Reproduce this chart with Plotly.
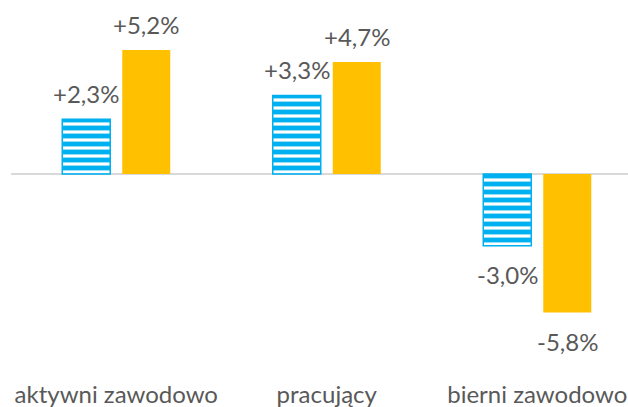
import plotly.graph_objects as go

categories = ["aktywni zawodowo", "pracujący", "bierni zawodowo"]
series_a = [2.3, 3.3, -3.0]
series_b = [5.2, 4.7, -5.8]
labels_a = ["+2,3%", "+3,3%", "-3,0%"]
labels_b = ["+5,2%", "+4,7%", "-5,8%"]

BLUE = "#00B0F0"
YELLOW = "#FFC000"
TEXT = "#595959"
FONT = "Lato"

fig = go.Figure()
fig.add_trace(go.Bar(
    x=categories, y=series_a, name="a",
    marker=dict(color=BLUE, line=dict(color=BLUE, width=1.5),
                pattern=dict(shape="-", fgcolor="white", bgcolor=BLUE,
                             fgopacity=1, size=8, solidity=0.4,
                             fillmode="overlay")),
))
fig.add_trace(go.Bar(
    x=categories, y=series_b, name="b",
    marker=dict(color=YELLOW, line=dict(width=0)),
))

annotations = []
for i, cat in enumerate(categories):
    for vals, labs, xs in ((series_a, labels_a, -30), (series_b, labels_b, 30)):
        v = vals[i]
        annotations.append(dict(
            x=cat, y=v, text=labs[i], showarrow=False,
            xshift=xs, yshift=26 if v >= 0 else -29,
            font=dict(family=FONT, size=24, color=TEXT),
        ))

fig.update_layout(
    width=628, height=407,
    margin=dict(l=11, r=0, t=0, b=29),
    paper_bgcolor="white", plot_bgcolor="white",
    showlegend=False,
    barmode="group", bargap=0.43, bargroupgap=0.2,
    font=dict(family=FONT, size=24, color=TEXT),
    annotations=annotations,
    xaxis=dict(range=[-0.5, 2.431], showgrid=False, showline=False,
               ticks="", tickfont=dict(family=FONT, size=24, color=TEXT),
               zeroline=False, automargin=False),
    yaxis=dict(range=[-8.55, 7.3], showgrid=False, showticklabels=False,
               zeroline=True, zerolinecolor="#D9D9D9", zerolinewidth=2,
               showline=False, automargin=False),
)

fig.write_html("out.html", config={"displayModeBar": False},
               post_script="document.body.style.margin='0';")
